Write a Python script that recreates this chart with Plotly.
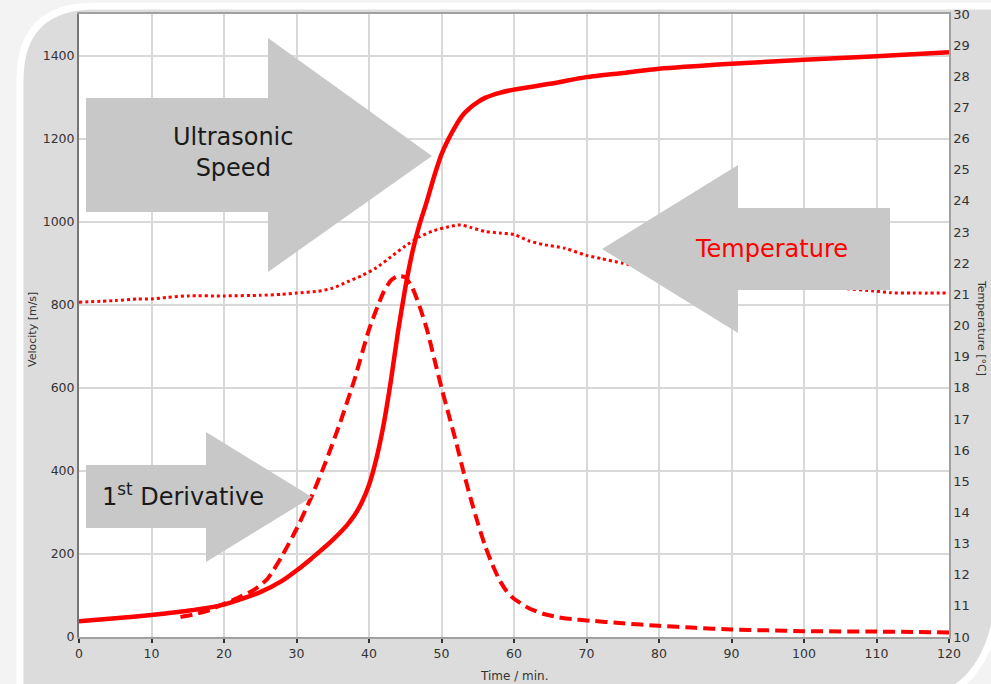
import plotly.graph_objects as go

# ---------------- data ----------------
vel_t = [0, 5, 10, 15, 20, 25, 28, 30, 32, 33, 34, 35, 36, 37, 38, 39, 40, 41, 42, 43, 44, 45, 46, 47, 48, 49, 50,
         51, 52, 53, 54, 55, 56, 58, 60, 65, 70, 75, 80, 90, 100, 110, 120]
vel_v = [38, 45, 53, 63, 78, 108, 135, 160, 188, 203, 218, 234, 251, 270, 293, 324, 366, 428, 510, 615, 735, 840,
         928, 995, 1050, 1110, 1162, 1200, 1232, 1258, 1275, 1288, 1298, 1310, 1318, 1332, 1348, 1358,
         1368, 1380, 1390, 1398, 1408]

der_t = [14, 16, 18, 20, 22, 24, 26, 28, 30, 32, 34, 36, 38, 40, 42, 43, 44, 45, 46, 47, 48, 49, 50,
         51, 52, 53, 54, 55, 56, 57, 58, 59, 60, 62, 64, 66, 68, 70, 75, 80, 85, 90, 95, 100, 110, 120]
der_v = [48, 55, 65, 80, 95, 112, 140, 195, 260, 335, 420, 515, 620, 740, 830, 858, 869, 866, 840, 795,
         740, 670, 600, 535, 470, 400, 335, 275, 220, 175, 137, 110, 92, 70, 56, 48, 43, 40, 33, 27, 22,
         18, 16, 14, 13, 11]

temp_t = [0, 5, 8, 10, 12, 15, 20, 25, 28, 30, 33, 35, 37, 39, 41, 43, 45, 47, 49, 51, 52.6, 54, 56,
          58, 60, 62, 64, 67, 70, 72, 75, 80, 85, 90, 95, 100, 105, 110, 112, 115, 120]
temp_v = [20.75, 20.8, 20.85, 20.85, 20.9, 20.95, 20.95, 20.97, 21.0, 21.04, 21.1, 21.2, 21.4, 21.6,
          21.85, 22.2, 22.55, 22.85, 23.05, 23.17, 23.23, 23.15, 23.02, 22.97, 22.92, 22.72, 22.6, 22.48,
          22.25, 22.15, 22.0, 21.8, 21.65, 21.5, 21.38, 21.28, 21.2, 21.1, 21.05, 21.04, 21.04]

vel_ticks = [0, 200, 400, 600, 800, 1000, 1200, 1400]
temp_ticks = list(range(10, 31))
time_ticks = list(range(0, 121, 10))

# ---------------- layout geometry (pixels) ----------------
W, H = 991, 684
L, R, T, B = 79, 949, 14, 637


def px(x):
    return (x - L) / (R - L)


def py(y):
    return (B - y) / (B - T)


def path(points):
    parts = []
    for cmd, pts in points:
        coords = " ".join(f"{px(a):.5f},{py(b):.5f}" for a, b in pts)
        parts.append(f"{cmd}{coords}")
    return " ".join(parts) + " Z"


RED = "#ff0000"
ARROW = "#c8c8c8"
FONT = "DejaVu Sans"

fig = go.Figure()
fig.add_trace(go.Scatter(x=vel_t, y=vel_v, mode="lines",
                         line=dict(color=RED, width=4.5, shape="spline", smoothing=0.6),
                         hoverinfo="skip", showlegend=False))
fig.add_trace(go.Scatter(x=der_t, y=der_v, mode="lines",
                         line=dict(color=RED, width=4, dash="12px,6px", shape="spline", smoothing=0.6),
                         hoverinfo="skip", showlegend=False))
fig.add_trace(go.Scatter(x=temp_t, y=temp_v, mode="lines", yaxis="y2",
                         line=dict(color=RED, width=3, dash="3px,3px", shape="spline", smoothing=0.6),
                         hoverinfo="skip", showlegend=False))

shapes = []
# background frame
bg = path([("M", [(20, 80)]), ("Q", [(20, 6), (95, 6)]), ("L", [(1000, 6)]), ("L", [(1000, 590)]),
           ("Q", [(992, 688), (925, 700)]), ("L", [(20, 700)])])
shapes.append(dict(type="path", path=bg, xref="paper", yref="paper", fillcolor="#dcdcdc",
                   line=dict(color="white", width=7), layer="below"))
shapes.append(dict(type="rect", x0=0, x1=1, y0=0, y1=1, xref="paper", yref="paper", fillcolor="white",
                   line=dict(width=0), layer="below"))

# arrows (pixels)
arrows = [
    [(86, 98), (268, 98), (268, 38), (432, 156), (268, 272), (268, 212), (86, 212)],
    [(890, 208), (738, 208), (738, 165), (602, 249), (738, 333), (738, 290), (890, 290)],
    [(86, 465), (206, 465), (206, 432), (312, 497), (206, 562), (206, 528), (86, 528)],
]
for a in arrows:
    p = path([("M", [a[0]])] + [("L", [q]) for q in a[1:]])
    shapes.append(dict(type="path", path=p, xref="paper", yref="paper", fillcolor=ARROW,
                       line=dict(width=0), layer="above"))


def ann(x, y, text, size, color, angle=0):
    return dict(x=px(x), y=py(y), text=text, showarrow=False, xref="paper", yref="paper",
                xanchor="center", yanchor="middle", textangle=angle, align="center",
                font=dict(family=FONT, size=size, color=color))


annotations = [
    ann(233, 152, "Ultrasonic<br>Speed", 24, "#1a1a1a"),
    ann(771, 249, "Temperature", 24, RED),
    ann(183, 495, "1<sup>st</sup> Derivative", 24, "#1a1a1a"),
    ann(32, 330, "Velocity [m/s]", 11, "#333", -90),
    ann(982, 328, "Temperature [°C]", 11, "#333", 90),
    ann(514, 676, "Time / min.", 12, "#333"),
]

fig.update_layout(
    width=W, height=H,
    margin=dict(l=L, r=W - R, t=T, b=H - B, autoexpand=False),
    paper_bgcolor="#f3f3f3", plot_bgcolor="rgba(0,0,0,0)",
    shapes=shapes, annotations=annotations,
    xaxis=dict(range=[0, 120], tickvals=time_ticks, showgrid=True, gridcolor="#d8d8d8", gridwidth=1.5,
               showline=True, linecolor="#a0a0a0", linewidth=1.5, mirror=True,
               ticks="outside", ticklen=4, tickcolor="#333", tickwidth=1.5, automargin=False,
               tickfont=dict(family=FONT, size=12.5, color="#333"), zeroline=False),
    yaxis=dict(range=[0, 1500], tickvals=vel_ticks, showgrid=True, gridcolor="#d8d8d8", gridwidth=1.5,
               showline=True, linecolor="#777", linewidth=2, ticks="", zeroline=False, automargin=False,
               tickfont=dict(family=FONT, size=12.5, color="#333")),
    yaxis2=dict(range=[10, 30], tickvals=temp_ticks, overlaying="y", side="right", showgrid=False,
                showline=True, linecolor="#a0a0a0", linewidth=1.5, ticks="", zeroline=False,
                automargin=False, tickfont=dict(family=FONT, size=13, color="#333")),
)

fig.write_html("out.html", config={"displayModeBar": False},
               post_script="document.body.style.margin='0';document.body.style.overflow='hidden';")
